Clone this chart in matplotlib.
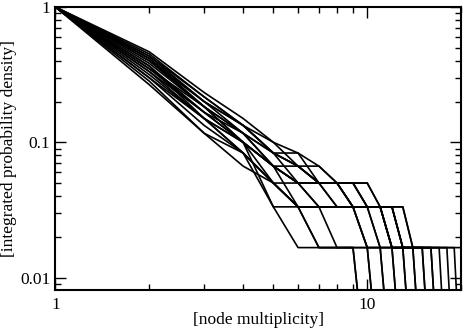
import numpy as np
from matplotlib import pyplot as plt
from matplotlib.ticker import FixedLocator, FixedFormatter, LogLocator, NullFormatter

# cumulative node counts (out of 60 nodes) for multiplicity >= 1, 2, 3, ...
n_nodes = 60
counts = [
    [60, 20, 9, 5, 2, 1, 1, 1, 1, 1, 1, 1, 1, 1, 1, 1, 1, 1, 1, 1, 0],
    [60, 22, 10, 6, 2, 2, 2, 2, 2, 2, 2, 2, 1, 1, 1, 1, 0],
    [60, 24, 11, 6, 3, 3, 3, 3, 3, 3, 2, 1, 1, 1, 1, 1, 1, 1, 0],
    [60, 26, 12, 7, 4, 4, 4, 3, 3, 2, 2, 1, 1, 1, 0],
    [60, 25, 12, 8, 5, 5, 3, 3, 2, 1, 0],
    [60, 28, 14, 9, 6, 5, 4, 3, 2, 2, 1, 0],
    [60, 18, 8, 5, 3, 2, 2, 1, 1, 0],
    [60, 17, 7, 4, 3, 2, 1, 1, 1, 1, 1, 1, 0],
    [60, 21, 10, 6, 4, 3, 2, 2, 2, 1, 1, 1, 1, 0],
    [60, 23, 11, 7, 4, 3, 3, 2, 2, 2, 2, 1, 1, 1, 1, 0],
    [60, 19, 9, 6, 4, 3, 2, 2, 2, 2, 2, 1, 1, 1, 1, 1, 1, 0],
    [60, 27, 13, 8, 5, 4, 3, 3, 2, 2, 2, 2, 2, 1, 1, 1, 1, 1, 1, 0],
    [60, 16, 7, 5, 3, 2, 1, 1, 1, 0],
    [60, 20, 10, 7, 5, 4, 3, 2, 2, 1, 0],
    [60, 22, 9, 6, 4, 2, 2, 2, 2, 2, 1, 0],
    [60, 24, 12, 8, 5, 4, 3, 3, 3, 2, 2, 2, 1, 0],
    [60, 26, 13, 8, 6, 4, 3, 3, 3, 3, 2, 2, 2, 1, 0],
    [60, 18, 9, 5, 3, 2, 2, 2, 2, 2, 2, 2, 1, 1, 1, 1, 0],
    [60, 21, 11, 7, 5, 3, 3, 3, 2, 2, 2, 2, 1, 1, 1, 0],
    [60, 25, 11, 6, 4, 3, 3, 3, 3, 2, 2, 1, 0],
]

x_ticks = [1, 10]
x_labels = ["1", "10"]
y_ticks = [0.01, 0.1, 1]
y_labels = ["0.01", "0.1", "1"]


def main():
    plt.rcParams['font.family'] = ['Liberation Serif', 'DejaVu Serif']
    fig = plt.figure(figsize=(4.63, 3.30), dpi=100)
    ax = fig.add_axes([0.1195, 0.1212, 0.8765, 0.8576])

    # zero can't be shown on a log axis, draw it a decade below the last step
    floor = 0.1 / n_nodes
    for c in counts:
        m = np.arange(1, len(c) + 1)
        p = np.array(c, dtype=float) / n_nodes
        p[p == 0] = floor
        ax.plot(m, p, color='black', linewidth=1.2)

    ax.set_xscale('log')
    ax.set_yscale('log')
    ax.set_xlim(1, 20)
    ax.set_ylim(0.0081, 1)

    ax.xaxis.set_major_locator(FixedLocator(x_ticks))
    ax.xaxis.set_major_formatter(FixedFormatter(x_labels))
    ax.yaxis.set_major_locator(FixedLocator(y_ticks))
    ax.yaxis.set_major_formatter(FixedFormatter(y_labels))
    ax.xaxis.set_minor_locator(LogLocator(base=10, subs=np.arange(2, 10)))
    ax.yaxis.set_minor_locator(LogLocator(base=10, subs=np.arange(2, 10)))
    ax.xaxis.set_minor_formatter(NullFormatter())
    ax.yaxis.set_minor_formatter(NullFormatter())

    ax.tick_params(which='both', direction='in', top=True, right=True,
                   labelsize=12.5, width=1.0)
    ax.tick_params(which='major', length=8)
    ax.tick_params(which='minor', length=4)
    ax.tick_params(axis='x', pad=5)
    for s in ax.spines.values():
        s.set_linewidth(1.5)

    ax.set_xlabel("[node multiplicity]", fontsize=12.5, labelpad=-1)
    ax.set_ylabel("[integrated probability density]", fontsize=12.5, labelpad=2)

    fig.savefig("out.png", dpi=100)


main()
